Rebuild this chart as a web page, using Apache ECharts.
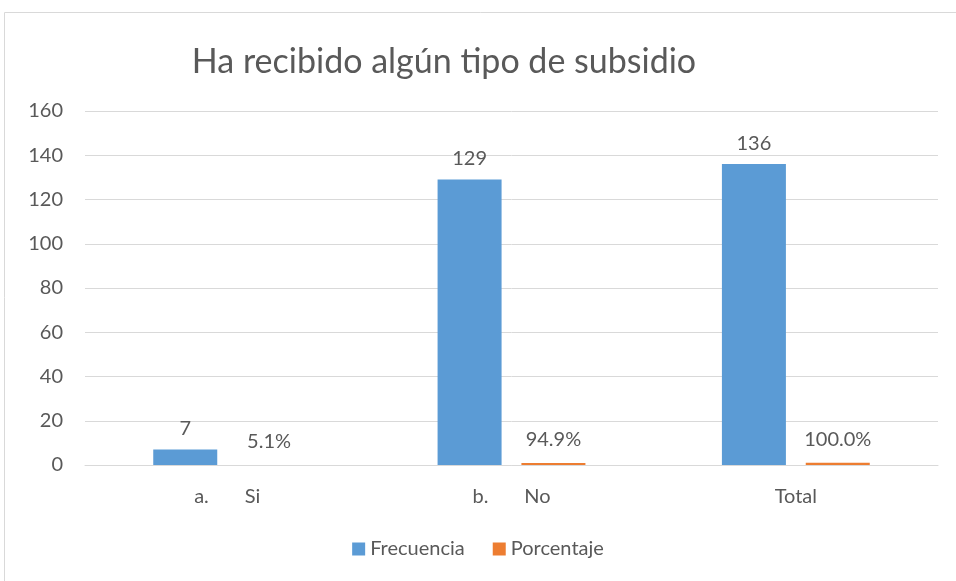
<!DOCTYPE html>
<html>
<head>
<meta charset="utf-8">
<script src="https://cdn.jsdelivr.net/npm/echarts@6/dist/echarts.min.js"></script>
<style>
  html, body { margin: 0; padding: 0; background: #fff; }
  #chart { width: 956px; height: 581px; }
</style>
</head>
<body>
<div id="chart"></div>
<script>
// Ha recibido algún tipo de subsidio
var categorias = ['a.\u00a0\u00a0\u00a0\u00a0\u00a0\u00a0\u00a0Si', 'b.\u00a0\u00a0\u00a0\u00a0\u00a0\u00a0\u00a0No', 'Total'];
var frecuencia = [7, 129, 136];
var porcentaje = [0.051, 0.949, 1.0];
var ticksY = [0, 20, 40, 60, 80, 100, 120, 140, 160];

var fuente = 'Lato, "Open Sans", sans-serif';
var gris = '#595959';
var tam = 20;

var myChart = echarts.init(document.getElementById('chart'));

var option = {
    animation: false,
    textStyle: { fontFamily: fuente },
    title: {
        text: 'Ha recibido algún tipo de subsidio',
        left: 439,
        top: 40,
        textAlign: 'center',
        textStyle: { fontSize: 34, fontWeight: 'normal', color: gris, fontFamily: fuente }
    },
    graphic: [{
        type: 'rect',
        shape: { x: 4.5, y: 12.5, width: 970, height: 590 },
        style: { fill: 'none', stroke: '#d9d9d9', lineWidth: 1 },
        silent: true
    }],
    legend: {
        bottom: 17,
        left: 'center',
        itemWidth: 13,
        itemHeight: 13,
        itemGap: 28,
        icon: 'rect',
        textStyle: { fontSize: tam, color: gris, fontFamily: fuente },
        data: ['Frecuencia', 'Porcentaje']
    },
    grid: { left: 85, right: 18, top: 111, bottom: 116 },
    xAxis: {
        type: 'category',
        data: categorias,
        axisTick: { show: false },
        axisLine: { lineStyle: { color: '#d9d9d9' } },
        axisLabel: { fontSize: tam, color: gris, margin: 22, fontFamily: fuente }
    },
    yAxis: {
        type: 'value',
        min: ticksY[0],
        max: ticksY[ticksY.length - 1],
        interval: 20,
        axisLine: { show: false },
        axisTick: { show: false },
        splitLine: { lineStyle: { color: '#d9d9d9' } },
        axisLabel: { fontSize: tam, color: gris, margin: 22, fontFamily: fuente }
    },
    series: [{
        name: 'Frecuencia',
        type: 'bar',
        data: frecuencia,
        barWidth: 64,
        barGap: '31%',
        itemStyle: { color: '#5b9bd5' },
        label: { show: true, position: 'top', distance: 11, fontSize: tam, color: gris, fontFamily: fuente }
    }, {
        name: 'Porcentaje',
        type: 'bar',
        data: porcentaje,
        barWidth: 64,
        itemStyle: { color: '#ed7d31' },
        label: {
            show: true,
            position: 'top',
            distance: 13,
            fontSize: tam,
            color: gris,
            fontFamily: fuente,
            formatter: function (p) { return (p.value * 100).toFixed(1) + '%'; }
        }
    }]
};

myChart.setOption(option);
</script>
</body>
</html>
